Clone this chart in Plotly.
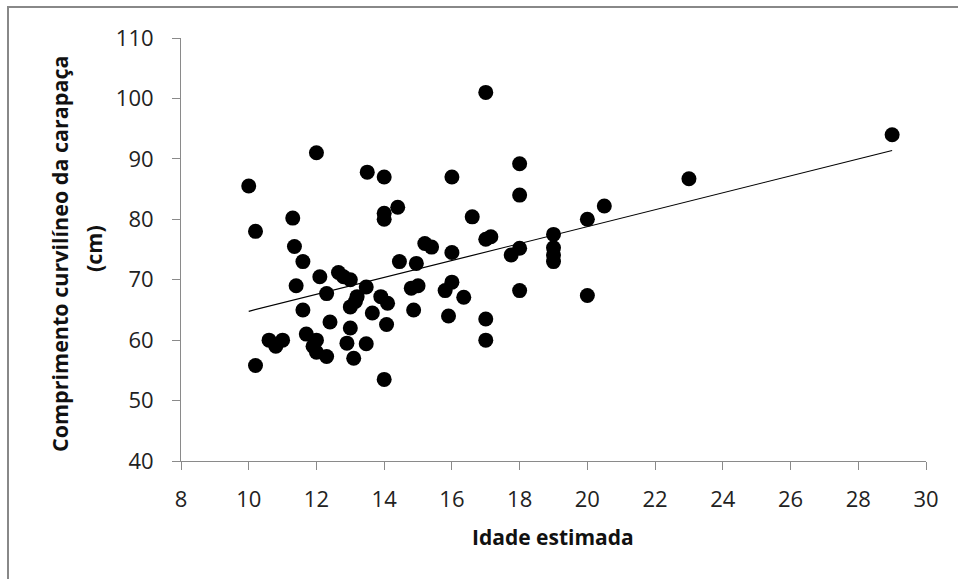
import numpy as np
import plotly.graph_objects as go

# ---- data ----
idade = [10, 10.2, 10.2, 10.6, 10.8, 11, 11.3, 11.35, 11.4, 11.6,
         11.6, 11.7, 11.9, 12, 12, 12, 12.1, 12.3, 12.3, 12.4,
         12.65, 12.8, 13.0, 12.9, 13.0, 13.0, 13.15, 13.2, 13.1, 13.5,
         13.47, 13.47, 13.65, 13.9, 14, 14, 14, 14, 14.1, 14.07,
         14.4, 14.45, 14.8, 14.87, 14.95, 15.0, 15.2, 15.4, 15.8, 15.9,
         16, 16, 16, 16.35, 16.6, 17, 17, 17.15, 17, 17,
         17.75, 18, 18, 18, 18, 19, 19, 19, 19, 20,
         20, 20.5, 23, 29]
comprimento = [85.5, 78, 55.8, 60, 59, 60, 80.2, 75.5, 69, 73,
               65, 61, 59, 91, 60, 58, 70.5, 67.7, 57.3, 63,
               71.2, 70.5, 70, 59.5, 62, 65.5, 66.4, 67.2, 57, 87.8,
               68.8, 59.4, 64.5, 67.2, 87, 81, 80, 53.5, 66.1, 62.6,
               82, 73, 68.6, 65, 72.7, 69, 76, 75.4, 68.2, 64,
               87, 74.5, 69.6, 67.1, 80.4, 101, 76.7, 77.1, 63.5, 60,
               74.1, 89.2, 84, 75.2, 68.2, 77.5, 75.3, 74.1, 73, 80,
               67.4, 82.2, 86.7, 94]
x_ticks = [8, 10, 12, 14, 16, 18, 20, 22, 24, 26, 28, 30]
y_ticks = [40, 50, 60, 70, 80, 90, 100, 110]
x_title = "Idade estimada"
y_title_1 = "Comprimento curvilíneo da carapaça"
y_title_2 = "(cm)"

# linear trendline (least squares) from the data
slope, intercept = np.polyfit(idade, comprimento, 1)
trend_x = np.array([min(idade), max(idade)])
trend_y = slope * trend_x + intercept

W, H = 958, 579
L, R, T, B = 181, 32, 38, 118
PW, PH = W - L - R, H - T - B


def px_x(px):
    return (px - L) / PW


def px_y(py):
    return (H - B - py) / PH


fig = go.Figure()
fig.add_trace(go.Scatter(x=idade, y=comprimento, mode="markers",
                         marker=dict(size=15, color="black"),
                         hoverinfo="x+y", showlegend=False))
fig.add_trace(go.Scatter(x=trend_x, y=trend_y, mode="lines",
                         line=dict(color="black", width=1.2),
                         hoverinfo="skip", showlegend=False))

tick_font = dict(family="Open Sans, Liberation Sans, sans-serif", size=22, color="#222222")
x_title_font = dict(family="Open Sans, Liberation Sans, sans-serif", size=21, color="#111111")
y_title_font = dict(family="Open Sans, Liberation Sans, sans-serif", size=21.5, color="#111111")

fig.update_layout(
    width=W, height=H,
    margin=dict(l=L, r=R, t=T, b=B, pad=0),
    paper_bgcolor="white", plot_bgcolor="white",
    xaxis=dict(range=[8, 30], tickvals=x_ticks, ticktext=[str(v) for v in x_ticks],
               showgrid=False, zeroline=False, showline=True, linecolor="#8a8a8a",
               linewidth=1, ticks="outside", ticklen=8, tickcolor="#8a8a8a",
               tickfont=tick_font, ticklabelstandoff=11, fixedrange=True),
    yaxis=dict(range=[40, 110], tickvals=y_ticks, ticktext=[str(v) for v in y_ticks],
               showgrid=False, zeroline=False, showline=True, linecolor="#8a8a8a",
               linewidth=1, ticks="outside", ticklen=8, tickcolor="#8a8a8a",
               tickfont=tick_font, ticklabelstandoff=14, fixedrange=True),
    shapes=[dict(type="rect", xref="paper", yref="paper",
                 x0=px_x(8), x1=px_x(975), y0=px_y(595), y1=px_y(7),
                 line=dict(color="#888888", width=2), fillcolor="rgba(0,0,0,0)",
                 layer="below")],
    annotations=[
        dict(text="<b>%s</b>" % x_title, xref="paper", yref="paper",
             x=px_x(553), y=px_y(537), xanchor="center", yanchor="middle",
             showarrow=False, font=x_title_font),
        dict(text="<b>%s</b>" % y_title_1, xref="paper", yref="paper",
             x=px_x(59), y=px_y(254), xanchor="center", yanchor="middle",
             textangle=-90, showarrow=False, font=y_title_font),
        dict(text="<b>%s</b>" % y_title_2, xref="paper", yref="paper",
             x=px_x(93), y=px_y(249), xanchor="center", yanchor="middle",
             textangle=-90, showarrow=False, font=y_title_font),
    ],
)

fig.write_html("out.html")
